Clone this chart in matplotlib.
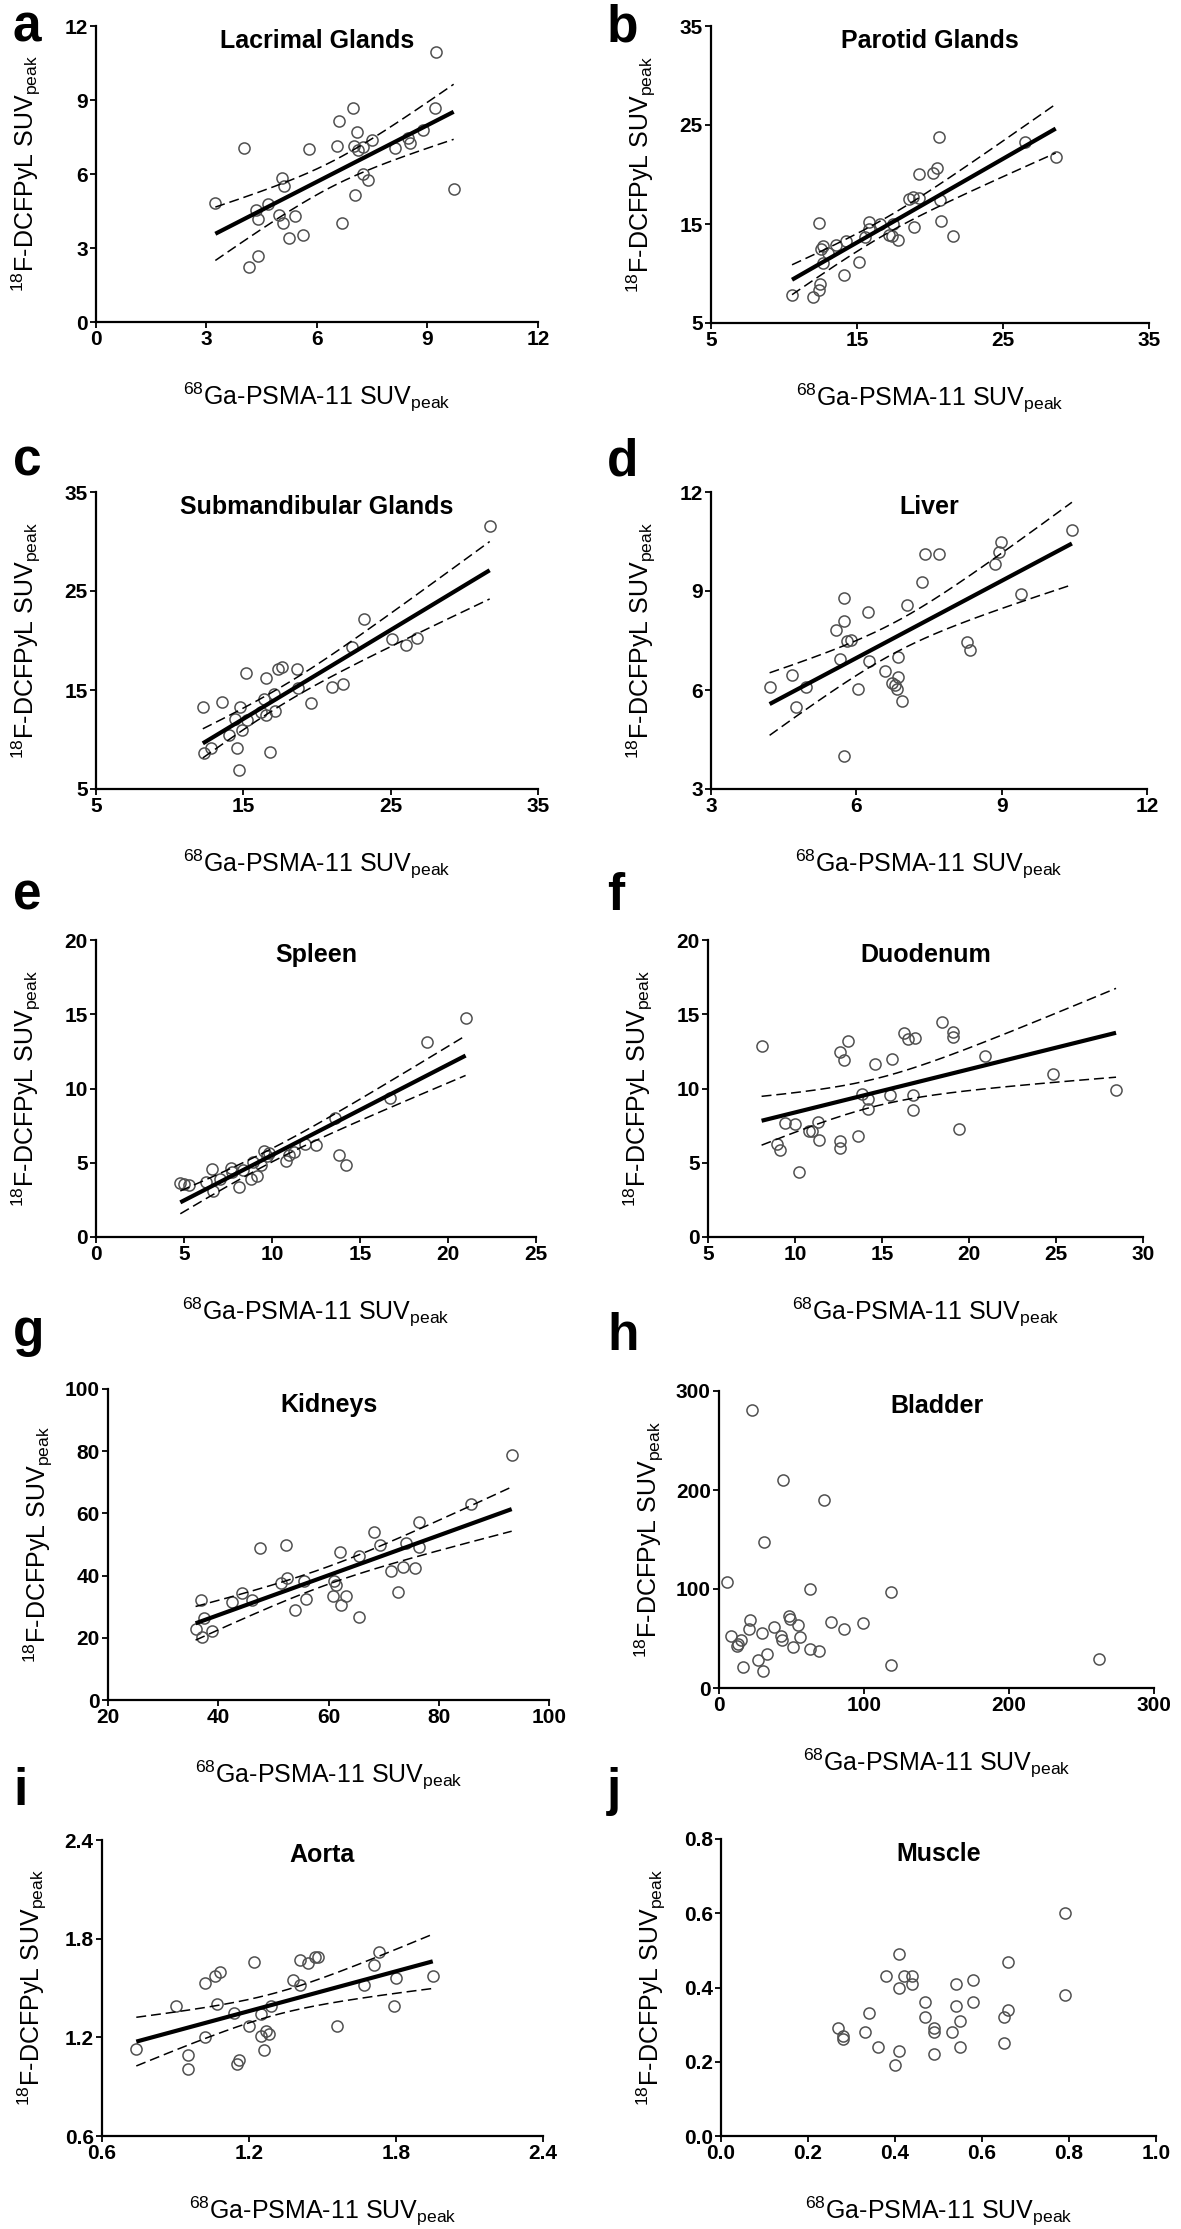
import numpy as np
import matplotlib.pyplot as plt

plt.rcParams['font.family'] = ['Liberation Sans', 'DejaVu Sans']
plt.rcParams['mathtext.fontset'] = 'custom'
plt.rcParams['mathtext.rm'] = 'Liberation Sans'
plt.rcParams['mathtext.it'] = 'Liberation Sans:italic'
plt.rcParams['mathtext.bf'] = 'Liberation Sans:bold'

# ---- data (68Ga-PSMA-11 SUVpeak vs 18F-DCFPyL SUVpeak) ----
lacrimal_x = [9.22, 4.03, 5.77, 6.98, 6.60, 7.09, 6.54, 7.00, 7.10, 7.26, 7.50, 8.12,
              8.48, 8.52, 8.87, 9.20, 9.71, 7.26, 7.38, 7.04, 6.67, 3.24, 4.34, 4.40,
              4.68, 5.04, 5.10, 4.96, 5.07, 5.39, 5.25, 5.63, 4.39, 4.16]
lacrimal_y = [10.95, 7.06, 7.02, 8.68, 8.13, 7.69, 7.14, 7.14, 6.98, 7.11, 7.37, 7.07,
              7.45, 7.26, 7.78, 8.68, 5.41, 6.02, 5.75, 5.14, 4.02, 4.82, 4.54, 4.18,
              4.78, 5.83, 5.53, 4.33, 4.02, 4.29, 3.40, 3.54, 2.67, 2.24]

parotid_x = [20.59, 26.51, 28.61, 20.50, 20.21, 19.22, 18.54, 18.86, 19.27, 20.68, 20.75,
             21.55, 18.88, 17.49, 15.82, 16.58, 15.80, 17.17, 17.42, 17.81, 15.57, 12.42,
             13.56, 14.25, 12.69, 12.51, 12.99, 12.67, 15.16, 14.09, 12.44, 12.37, 11.96, 10.55]
parotid_y = [23.74, 23.31, 21.80, 20.69, 20.15, 20.05, 17.56, 17.76, 17.63, 17.43, 15.28,
             13.83, 14.74, 14.98, 15.21, 14.98, 14.47, 13.90, 13.83, 13.43, 13.73, 15.08,
             12.89, 13.30, 12.73, 12.46, 12.05, 11.05, 11.21, 9.80, 8.93, 8.33, 7.65, 7.86]

submand_x = [31.72, 23.21, 25.10, 26.05, 26.80, 22.39, 15.16, 16.52, 17.38, 17.65, 18.64,
             21.04, 21.74, 19.61, 18.73, 17.11, 16.38, 12.25, 13.58, 14.74, 16.18, 16.52,
             17.18, 14.42, 14.94, 14.06, 12.82, 12.34, 14.60, 16.84, 14.71, 15.23]
submand_y = [31.54, 22.19, 20.14, 19.53, 20.27, 19.36, 16.71, 16.24, 17.14, 17.28, 17.08,
             15.26, 15.63, 13.71, 15.16, 14.55, 14.12, 13.31, 13.75, 13.31, 12.74, 12.47,
             12.84, 12.06, 10.99, 10.45, 9.17, 8.60, 9.17, 8.77, 6.95, 11.96]

liver_x = [10.45, 8.99, 8.94, 8.86, 7.42, 7.71, 7.35, 9.40, 5.74, 7.04, 6.24, 5.74, 5.57,
           5.81, 5.88, 8.29, 8.35, 5.67, 6.26, 6.86, 6.60, 6.87, 6.73, 6.79, 6.83, 6.95,
           4.68, 4.21, 4.96, 4.76, 6.03, 5.74]
liver_y = [10.86, 10.48, 10.17, 9.82, 10.11, 10.13, 9.27, 8.91, 8.78, 8.59, 8.35, 8.09, 7.83,
           7.50, 7.52, 7.45, 7.21, 6.94, 6.87, 6.99, 6.59, 6.38, 6.21, 6.14, 6.02, 5.67,
           6.46, 6.10, 6.10, 5.50, 6.04, 3.99]

spleen_x = [21.00, 18.83, 16.69, 13.60, 13.81, 14.19, 12.50, 11.86, 10.78, 10.97, 9.53, 9.83,
            9.70, 9.39, 9.15, 8.79, 8.92, 8.13, 7.67, 7.73, 6.61, 6.63, 6.23, 7.03, 4.79,
            5.02, 5.26, 8.37, 11.23]
spleen_y = [14.76, 13.15, 9.33, 8.04, 5.55, 4.83, 6.22, 6.25, 5.12, 5.55, 5.78, 5.69,
            5.46, 4.83, 4.09, 3.93, 5.06, 3.35, 4.67, 4.38, 4.61, 3.12, 3.71, 3.93, 3.66,
            3.55, 3.51, 4.49, 5.73]

duodenum_x = [8.08, 18.47, 19.08, 19.10, 16.26, 16.51, 16.92, 13.03, 12.61, 12.82, 14.58,
              15.57, 20.94, 24.85, 28.45, 13.85, 14.21, 15.46, 16.76, 16.76, 14.21, 19.41,
              11.34, 9.41, 10.00, 10.80, 10.96, 11.40, 8.97, 9.14, 12.57, 12.57, 13.64, 10.21]
duodenum_y = [12.83, 14.49, 13.82, 13.48, 13.71, 13.33, 13.42, 13.17, 12.43, 11.93, 11.62,
              11.98, 12.16, 10.99, 9.93, 9.62, 9.30, 9.57, 9.53, 8.58, 8.63, 7.24,
              7.75, 7.69, 7.60, 7.15, 7.12, 6.54, 6.25, 5.87, 6.47, 5.96, 6.81, 4.40]

kidney_x = [93.23, 85.86, 76.37, 68.22, 69.43, 74.02, 76.50, 65.62, 62.00, 47.61, 52.27,
            71.36, 73.60, 75.77, 72.63, 52.51, 51.42, 55.59, 60.91, 61.45, 60.73, 63.14,
            62.30, 55.89, 53.96, 65.50, 44.35, 46.16, 42.42, 36.86, 37.40, 35.89, 37.04, 38.85]
kidney_y = [78.65, 62.88, 57.08, 53.86, 49.68, 50.64, 49.25, 46.46, 47.53, 48.93, 49.79,
            41.63, 42.92, 42.49, 34.76, 39.27, 37.55, 38.30, 38.30, 36.91, 33.58, 33.37,
            30.47, 32.62, 28.97, 26.82, 34.33, 32.19, 31.65, 32.30, 26.29, 22.85, 20.39, 22.32]

bladder_x = [22.8, 43.9, 72.2, 31.3, 5.3, 62.5, 118.9, 21.4, 48.5, 49.0, 54.3, 77.2, 99.3,
             86.0, 38.2, 29.7, 20.5, 8.1, 14.9, 42.5, 43.5, 56.1, 50.8, 63.0, 68.7, 12.2,
             12.9, 32.9, 26.9, 16.8, 30.6, 118.4, 261.8]
bladder_y = [281.2, 210.2, 190.4, 147.3, 106.6, 100.2, 97.2, 69.0, 73.0, 70.0, 63.6, 66.9,
             65.3, 59.9, 61.6, 55.8, 59.5, 52.8, 48.8, 52.1, 48.4, 51.8, 41.0, 39.7, 37.3,
             42.0, 44.1, 34.6, 28.3, 21.5, 17.5, 22.9, 28.9]

aorta_x = [0.74, 0.90, 1.02, 1.06, 1.08, 1.07, 1.22, 1.02, 0.95, 0.95, 1.15, 1.16, 1.14,
           1.20, 1.25, 1.27, 1.28, 1.26, 1.25, 1.29, 1.38, 1.41, 1.41, 1.44, 1.47, 1.48,
           1.56, 1.67, 1.71, 1.73, 1.79, 1.80, 1.95]
aorta_y = [1.13, 1.39, 1.53, 1.57, 1.60, 1.40, 1.66, 1.20, 1.09, 1.01, 1.04, 1.06, 1.35,
           1.27, 1.21, 1.24, 1.22, 1.12, 1.34, 1.39, 1.55, 1.52, 1.67, 1.65, 1.69, 1.69,
           1.27, 1.52, 1.64, 1.72, 1.39, 1.56, 1.57]

muscle_x = [0.79, 0.79, 0.41, 0.66, 0.38, 0.42, 0.44, 0.44, 0.41, 0.54, 0.58, 0.47, 0.58,
            0.54, 0.66, 0.65, 0.34, 0.47, 0.55, 0.49, 0.49, 0.53, 0.33, 0.27, 0.28, 0.28,
            0.36, 0.41, 0.55, 0.65, 0.49, 0.40]
muscle_y = [0.60, 0.38, 0.49, 0.47, 0.43, 0.43, 0.43, 0.41, 0.40, 0.41, 0.42, 0.36, 0.36,
            0.35, 0.34, 0.32, 0.33, 0.32, 0.31, 0.29, 0.28, 0.28, 0.28, 0.29, 0.27, 0.26,
            0.24, 0.23, 0.24, 0.25, 0.22, 0.19]

xlabel = r'$^{68}$Ga-PSMA-11 SUV$_{\mathrm{peak}}$'
ylabel = r'$^{18}$F-DCFPyL SUV$_{\mathrm{peak}}$'

W, H = 1181, 2229

# letter, title, x, y, ticks, fmt, regression?, axes box in pixels (l, t, r, b), letter baseline
panels = [
    ('a', 'Lacrimal Glands', lacrimal_x, lacrimal_y, [0, 3, 6, 9, 12], [0, 3, 6, 9, 12], '{:g}', True, (96, 26, 538, 322), 42),
    ('b', 'Parotid Glands', parotid_x, parotid_y, [5, 15, 25, 35], [5, 15, 25, 35], '{:g}', True, (711, 26, 1149, 323), 42),
    ('c', 'Submandibular Glands', submand_x, submand_y, [5, 15, 25, 35], [5, 15, 25, 35], '{:g}', True, (96, 492, 538, 789), 475),
    ('d', 'Liver', liver_x, liver_y, [3, 6, 9, 12], [3, 6, 9, 12], '{:g}', True, (711, 492, 1147, 789), 475),
    ('e', 'Spleen', spleen_x, spleen_y, [0, 5, 10, 15, 20, 25], [0, 5, 10, 15, 20], '{:g}', True, (96, 940, 536, 1237), 910),
    ('f', 'Duodenum', duodenum_x, duodenum_y, [5, 10, 15, 20, 25, 30], [0, 5, 10, 15, 20], '{:g}', True, (708, 940, 1143, 1237), 910),
    ('g', 'Kidneys', kidney_x, kidney_y, [20, 40, 60, 80, 100], [0, 20, 40, 60, 80, 100], '{:g}', True, (108, 1389, 549, 1700), 1346),
    ('h', 'Bladder', bladder_x, bladder_y, [0, 100, 200, 300], [0, 100, 200, 300], '{:g}', False, (719, 1391, 1154, 1688), 1350),
    ('i', 'Aorta', aorta_x, aorta_y, [0.6, 1.2, 1.8, 2.4], [0.6, 1.2, 1.8, 2.4], '{:.1f}', True, (102, 1840, 543, 2136), 1805),
    ('j', 'Muscle', muscle_x, muscle_y, [0.0, 0.2, 0.4, 0.6, 0.8, 1.0], [0.0, 0.2, 0.4, 0.6, 0.8], '{:.1f}', False, (721, 1839, 1156, 2136), 1805),
]


def fit_band(x, y):
    x = np.asarray(x)
    y = np.asarray(y)
    n = len(x)
    slope, icept = np.polyfit(x, y, 1)
    xs = np.linspace(x.min(), x.max(), 200)
    yhat = icept + slope * xs
    resid = y - (icept + slope * x)
    s = np.sqrt(np.sum(resid ** 2) / (n - 2))
    sxx = np.sum((x - x.mean()) ** 2)
    se = s * np.sqrt(1.0 / n + (xs - x.mean()) ** 2 / sxx)
    t = 2.04  # two-sided 95%, ~30 df
    return xs, yhat, yhat - t * se, yhat + t * se


fig = plt.figure(figsize=(W / 100, H / 100), dpi=100)

for letter, title, x, y, xt, yt, fmt, reg, box, lbase in panels:
    l, t, r, b = box
    ax = fig.add_axes([l / W, 1 - b / H, (r - l) / W, (b - t) / H])
    ax.plot(x, y, 'o', ms=8, mfc='none', mec='#505050', mew=1.1, clip_on=False, zorder=3)
    if reg:
        xs, yhat, lo, hi = fit_band(x, y)
        ax.plot(xs, yhat, color='black', lw=3.0, solid_capstyle='butt', zorder=4)
        ax.plot(xs, lo, color='black', lw=1.1, ls=(0, (6.5, 3.2)), zorder=4)
        ax.plot(xs, hi, color='black', lw=1.1, ls=(0, (6.5, 3.2)), zorder=4)
    ax.set_xlim(xt[0], xt[-1])
    ax.set_ylim(yt[0], yt[-1])
    ax.set_xticks(xt)
    ax.set_yticks(yt)
    ax.set_xticklabels([fmt.format(v) for v in xt], fontweight='bold', fontsize=15)
    ax.set_yticklabels([fmt.format(v) for v in yt], fontweight='bold', fontsize=15)
    for side in ['top', 'right']:
        ax.spines[side].set_visible(False)
    for side in ['left', 'bottom']:
        ax.spines[side].set_linewidth(1.6)
    ax.tick_params(direction='out', length=4, width=1.3, pad=2)
    ax.text(0.5, 0.925, title, transform=ax.transAxes, ha='center', va='baseline',
            fontsize=18, fontweight='bold')
    cx = (l + r) / 2
    cy = (t + b) / 2
    fig.text(cx / W, 1 - (b + 75) / H, xlabel, ha='center', va='center', fontsize=18)
    fig.text((l - 70) / W, 1 - cy / H, ylabel, ha='center', va='center', rotation=90, fontsize=18)
    fig.text((13 if l < 600 else 607) / W, 1 - lbase / H, letter, ha='left', va='baseline',
             fontsize=37, fontweight='bold')

fig.savefig('out.png', dpi=100, facecolor='white')
